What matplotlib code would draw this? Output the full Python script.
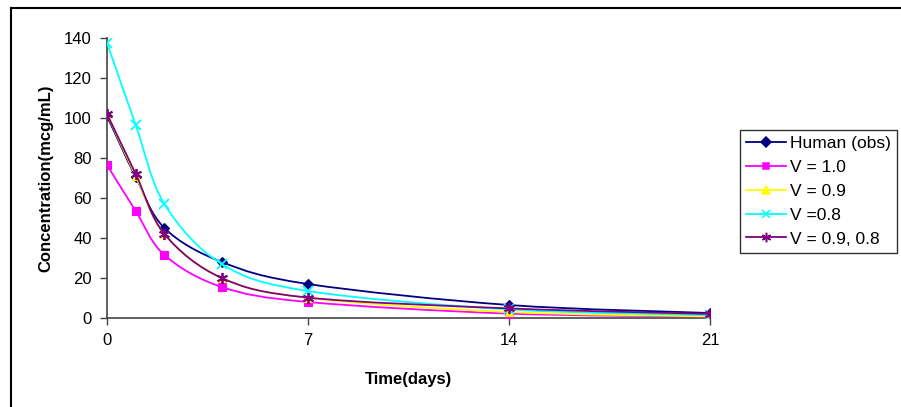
import matplotlib.pyplot as plt
from matplotlib.path import Path
from matplotlib.patches import PathPatch
from matplotlib.lines import Line2D

# ===== Dados =====
dias = [0, 1, 2, 4, 7, 14, 21]
human = [101, 70.5, 45, 28, 17, 6.5, 2.5]
v10 = [76.5, 53.5, 31.5, 15.5, 8, 2.2, 0.7]
v09 = [102, 71, 42, 20, 10, 3, 0.8]
v08 = [137.5, 96.5, 57, 27, 13.5, 4.3, 1.5]
v0908 = [102, 72, 42, 20, 10.2, 4.8, 2]

series = [
    ('Human (obs)', human, '#000080', 'D', 5.5),
    ('V = 1.0', v10, '#FF00FF', 's', 5.5),
    ('V = 0.9', v09, '#FFFF00', '^', 6),
    ('V =0.8', v08, '#00FFFF', 'x', 7),
    ('V = 0.9, 0.8', v0908, '#800080', (6, 2, 0), 8),
]

plt.rcParams['font.family'] = ['Liberation Sans', 'DejaVu Sans']


def curva_suave(xs, ys):
    # linha suavizada estilo Excel (bezier Catmull-Rom)
    verts = [(xs[0], ys[0])]
    codes = [Path.MOVETO]
    n = len(xs)
    for i in range(n - 1):
        x0, y0 = (xs[i - 1], ys[i - 1]) if i > 0 else (xs[i], ys[i])
        x1, y1 = xs[i], ys[i]
        x2, y2 = xs[i + 1], ys[i + 1]
        x3, y3 = (xs[i + 2], ys[i + 2]) if i + 2 < n else (x2, y2)
        c1 = (x1 + (x2 - x0) / 6, y1 + (y2 - y0) / 6)
        c2 = (x2 - (x3 - x1) / 6, y2 - (y3 - y1) / 6)
        verts += [c1, c2, (x2, y2)]
        codes += [Path.CURVE4] * 3
    return Path(verts, codes)


fig = plt.figure(figsize=(9.01, 4.07), dpi=100)
ax = fig.add_axes([107 / 901, 1 - 318 / 407, 603 / 901, 280 / 407])

for i, (nome, vals, cor, mk, ms) in enumerate(series):
    ax.add_patch(PathPatch(curva_suave(dias, vals), fill=False, edgecolor=cor,
                           lw=1.3, zorder=2 + i))
    ax.plot(dias, vals, linestyle='none', marker=mk, color=cor, markersize=ms,
            markeredgewidth=1.3 if mk in ('x', (6, 2, 0)) else 0.8, zorder=2 + i)

ax.set_xlim(0, 21)
ax.set_ylim(0, 140)
ax.set_xticks([0, 7, 14, 21])
ax.set_yticks(range(0, 141, 20))
ax.spines['top'].set_visible(False)
ax.spines['right'].set_visible(False)
ax.spines['left'].set_linewidth(1.2)
ax.spines['bottom'].set_linewidth(1.2)
ax.spines['left'].set_color('#444444')
ax.spines['bottom'].set_color('#444444')
ax.tick_params(axis='both', direction='out', length=5, width=1, color='#444444',
               labelsize=12, pad=6)
for s in ax.spines.values():
    s.set_clip_on(False)

ax.set_xlabel('Time(days)', fontsize=12, fontweight='bold', labelpad=17)
ax.set_ylabel('Concentration(mcg/mL)', fontsize=12, fontweight='bold', labelpad=7.5)

# legenda
handles = [Line2D([], [], color=cor, marker=mk, markersize=ms * 0.85, lw=1.3,
                  markeredgewidth=1.1)
           for nome, vals, cor, mk, ms in series]
labels = [s[0] for s in series]
leg = fig.legend(handles, labels, loc='upper left',
                 bbox_to_anchor=(740 / 901, 1 - 130 / 407),
                 frameon=True, fancybox=False, fontsize=12.5,
                 handlelength=2.3, handletextpad=0.25, labelspacing=0.5,
                 borderpad=0.35, borderaxespad=0)
leg.get_frame().set_edgecolor('black')
leg.get_frame().set_linewidth(1.0)

# moldura do gráfico
fig.add_artist(Line2D([11 / 901, 11 / 901], [0, 1 - 8 / 407], color='black',
                      lw=1.5, transform=fig.transFigure))
fig.add_artist(Line2D([11 / 901, 1], [1 - 8 / 407, 1 - 8 / 407], color='black',
                      lw=1.5, transform=fig.transFigure))

plt.savefig('out.png', dpi=100)
